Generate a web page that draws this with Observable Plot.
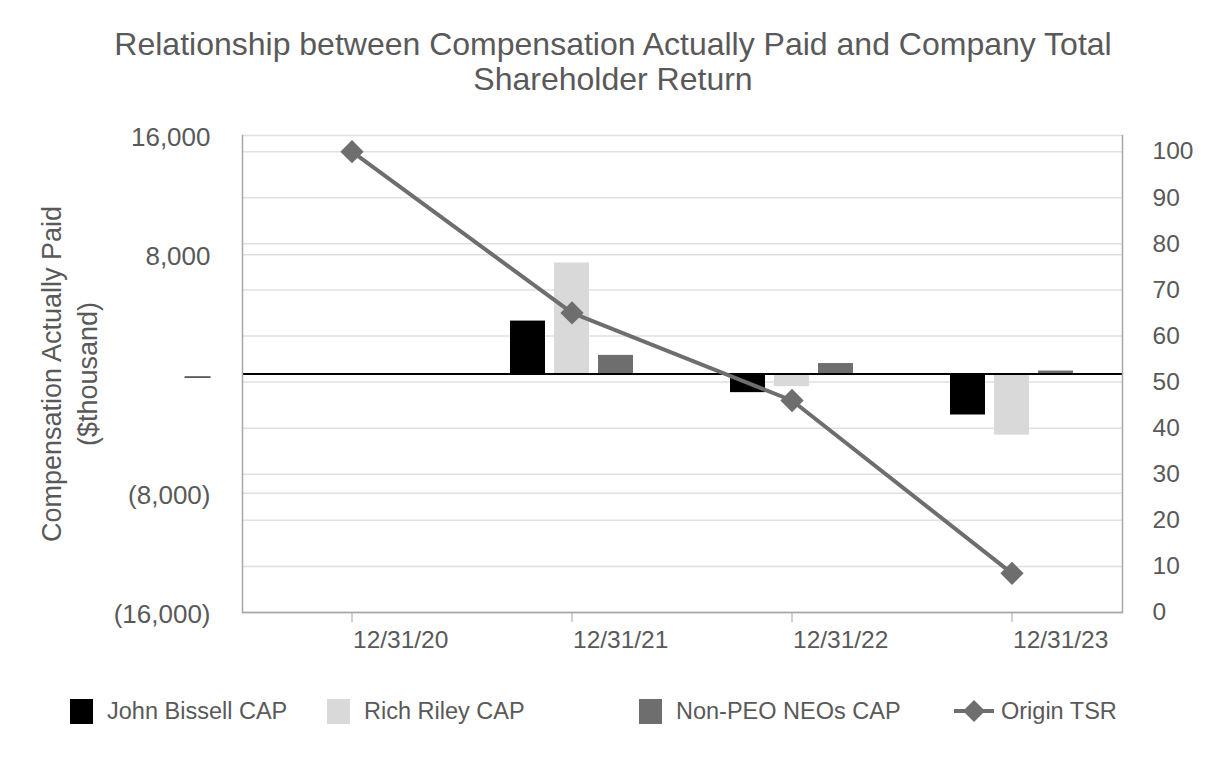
<!DOCTYPE html>
<html><head><meta charset="utf-8">
<script src="https://cdn.jsdelivr.net/npm/d3@7"></script>
<script src="https://cdn.jsdelivr.net/npm/@observablehq/plot@0.6"></script>
<style>
body{margin:0;background:#fff;font-family:"Liberation Sans",Arial,sans-serif;color:#595959}
#wrap{position:relative;width:1226px;height:768px;overflow:hidden;background:#fff}
#title{height:115px;box-sizing:border-box;padding-top:27px;text-align:center;font-size:32px;line-height:35px}
#chart{height:552px}
#ytitle{position:absolute;left:70px;top:374px;transform:translate(-50%,-50%) rotate(-90deg);white-space:nowrap;text-align:center;font-size:27px;line-height:36px}
.li{position:absolute;top:698px;height:26px;display:flex;align-items:center;font-size:23.5px;white-space:nowrap}
.sw{width:23px;height:25px;margin-right:14px}
</style></head><body>
<div id="wrap">
<div id="title">Relationship between Compensation Actually Paid and Company Total<br>Shareholder Return</div>
<div id="chart"></div>
<div id="ytitle">Compensation Actually Paid<br>($thousand)</div>
<div id="legend"></div>
</div>
<script>
const dates = ["12/31/20", "12/31/21", "12/31/22", "12/31/23"];
const series = ["John Bissell CAP", "Rich Riley CAP", "Non-PEO NEOs CAP"];
const johnBissell = [null, 3550, -1250, -2750];
const richRiley = [null, 7450, -850, -4100];
const nonPeoNeos = [null, 1250, 700, 200];
const originTSR = [100, 65, 46, 8.5];
const tsrLabel = "Origin TSR";
const leftTicks = [-16000, -8000, 0, 8000, 16000];
const rightTicks = [0, 10, 20, 30, 40, 50, 60, 70, 80, 90, 100];
const barColors = ["#000000", "#d9d9d9", "#6e6e6e"];
const tsrColor = "#6e6e6e";

const leftDomain = [-16000, 16000];
const rightDomain = [0, 103.5];
const toLeft = t => leftDomain[0] + (t - rightDomain[0]) / (rightDomain[1] - rightDomain[0]) * (leftDomain[1] - leftDomain[0]);
const fromLeft = v => rightDomain[0] + (v - leftDomain[0]) / (leftDomain[1] - leftDomain[0]) * (rightDomain[1] - rightDomain[0]);

const seriesValues = [johnBissell, richRiley, nonPeoNeos];
const slots = dates.flatMap(d => [`${d}|_a`, ...series.map(s => `${d}|${s}`), `${d}|_b`]);
const bars = dates.flatMap((d, i) => series.map((s, j) => ({slot: `${d}|${s}`, series: s, value: seriesValues[j][i]}))).filter(b => b.value != null);
const tsrData = dates.map((d, i) => ({slot: `${d}|${series[1]}`, tsr: originTSR[i]}));

const fmtLeft = v => v === 0 ? "—" : v < 0 ? `(${d3.format(",")(-v)})` : d3.format(",")(v);

const chart = Plot.plot({
  width: 1226, height: 552,
  marginLeft: 242, marginRight: 104, marginTop: 20, marginBottom: 55,
  style: {fontFamily: "Liberation Sans, Arial, sans-serif", fontSize: "24px", color: "#595959", background: "transparent", overflow: "visible"},
  x: {type: "band", domain: slots, paddingInner: 0.2, paddingOuter: 0.1, axis: null},
  y: {domain: leftDomain, axis: null},
  color: {domain: series, range: barColors},
  marks: [
    Plot.ruleY(rightTicks, {y: d => toLeft(d), stroke: "#e0e0e0", strokeWidth: 1.5}),
    Plot.ruleY(leftTicks, {y: d => d, stroke: "#e0e0e0", strokeWidth: 1.5}),
    Plot.barY(bars, {x: "slot", y: "value", fill: "series"}),
    Plot.ruleY([0], {stroke: "#000", strokeWidth: 2}),
    Plot.ruleY([leftDomain[0]], {stroke: "#a6a6a6", strokeWidth: 1.5}),
    Plot.frame({anchor: "left", stroke: "#a6a6a6", strokeWidth: 1.5}),
    Plot.frame({anchor: "right", stroke: "#a6a6a6", strokeWidth: 1.5}),
    Plot.axisY({ticks: leftTicks, anchor: "left", tickSize: 0, tickPadding: 32, tickFormat: fmtLeft, fontSize: 26, dy: 2, label: null}),
    Plot.axisY({ticks: rightTicks.map(toLeft), anchor: "right", tickSize: 0, tickPadding: 30, tickFormat: v => String(Math.round(fromLeft(v))), fontSize: 24.5, label: null}),
    Plot.axisX({ticks: dates.map(d => `${d}|${series[1]}`), tickSize: 10, stroke: "#a6a6a6", text: null, label: null}),
    Plot.axisX({ticks: dates.map(d => `${d}|${series[1]}`), tickFormat: s => s.split("|")[0], tickSize: 0, tickPadding: 18, textAnchor: "start", dx: 1, fontSize: 24.5, label: null}),
    Plot.line(tsrData, {x: "slot", y: d => toLeft(d.tsr), stroke: tsrColor, strokeWidth: 4}),
    Plot.dot(tsrData, {x: "slot", y: d => toLeft(d.tsr), symbol: "diamond2", r: 10.5, fill: tsrColor, stroke: "none"})
  ]
});
document.getElementById("chart").appendChild(chart);

// legend
const legend = document.getElementById("legend");
const lefts = [70, 327, 639];
series.forEach((s, i) => {
  const el = document.createElement("div");
  el.className = "li";
  el.style.left = lefts[i] + "px";
  el.innerHTML = `<div class="sw" style="background:${barColors[i]}"></div><span>${s}</span>`;
  legend.appendChild(el);
});
const tl = document.createElement("div");
tl.className = "li";
tl.style.left = "954px";
tl.innerHTML = `<svg width="40" height="26" style="margin-right:7px"><line x1="0" y1="13" x2="40" y2="13" stroke="${tsrColor}" stroke-width="4"/><path d="M20,2 L31,13 L20,24 L9,13Z" fill="${tsrColor}"/></svg><span>${tsrLabel}</span>`;
legend.appendChild(tl);
</script>
</body></html>
